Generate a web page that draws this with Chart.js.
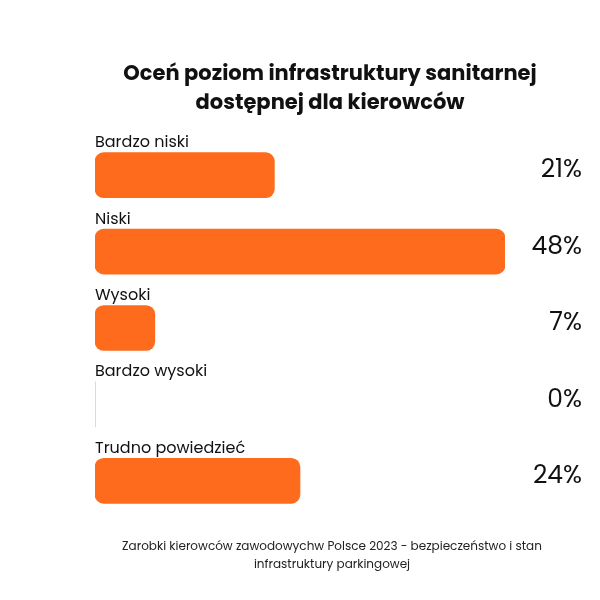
<!DOCTYPE html>
<html>
<head>
<meta charset="utf-8">
<script src="https://cdn.jsdelivr.net/npm/chart.js@4"></script>
<style>
  html, body { margin: 0; padding: 0; background: #fff; }
  #wrap { width: 600px; height: 600px; }
</style>
</head>
<body>
<div id="wrap"><canvas id="chart" width="600" height="600"></canvas></div>
<script>
var labels = ['Bardzo niski', 'Niski', 'Wysoki', 'Bardzo wysoki', 'Trudno powiedzieć'];
var values = [21, 48, 7, 0, 24];

var textPlugin = {
    id: 'texts',
    afterDatasetsDraw: function (chart) {
        var ctx = chart.ctx;
        var y = chart.scales.y;
        var x = chart.scales.x;
        ctx.save();
        ctx.fillStyle = '#111';
        ctx.textAlign = 'center';
        ctx.textBaseline = 'middle';
        ctx.font = "bold 21px Poppins, 'Open Sans', sans-serif";
        ctx.fillText('Oceń poziom infrastruktury sanitarnej', 330, 75);
        ctx.fillText('dostępnej dla kierowców', 330, 104);
        ctx.font = "12px Poppins, 'Open Sans', sans-serif";
        ctx.fillStyle = '#222';
        ctx.fillText('Zarobki kierowców zawodowychw Polsce 2023 - bezpieczeństwo i stan', 332, 547);
        ctx.fillText('infrastruktury parkingowej', 332, 565);
        labels.forEach(function (l, i) {
            var cy = y.getPixelForValue(i);
            ctx.textAlign = 'left';
            ctx.textBaseline = 'alphabetic';
            ctx.fillStyle = '#111';
            ctx.font = "16px Poppins, 'Open Sans', sans-serif";
            ctx.fillText(l, x.left, cy - 28);
            ctx.textAlign = 'right';
            ctx.textBaseline = 'middle';
            ctx.font = "25px Poppins, 'Open Sans', sans-serif";
            ctx.fillText(values[i] + '%', 582, cy - 4);
        });
        ctx.restore();
    }
};

new Chart(document.getElementById('chart').getContext('2d'), {
    type: 'bar',
    data: {
        labels: labels,
        datasets: [{
            data: values,
            backgroundColor: '#FF6B1C',
            borderRadius: 9,
            borderSkipped: false,
            barThickness: 45
        }]
    },
    options: {
        indexAxis: 'y',
        responsive: false,
        animation: false,
        layout: { padding: { left: 95, right: 95, top: 137, bottom: 81 } },
        plugins: { legend: { display: false }, tooltip: { enabled: false } },
        scales: {
            x: { display: false, min: 0, max: 48 },
            y: { display: false }
        }
    },
    plugins: [textPlugin]
});
</script>
</body>
</html>
